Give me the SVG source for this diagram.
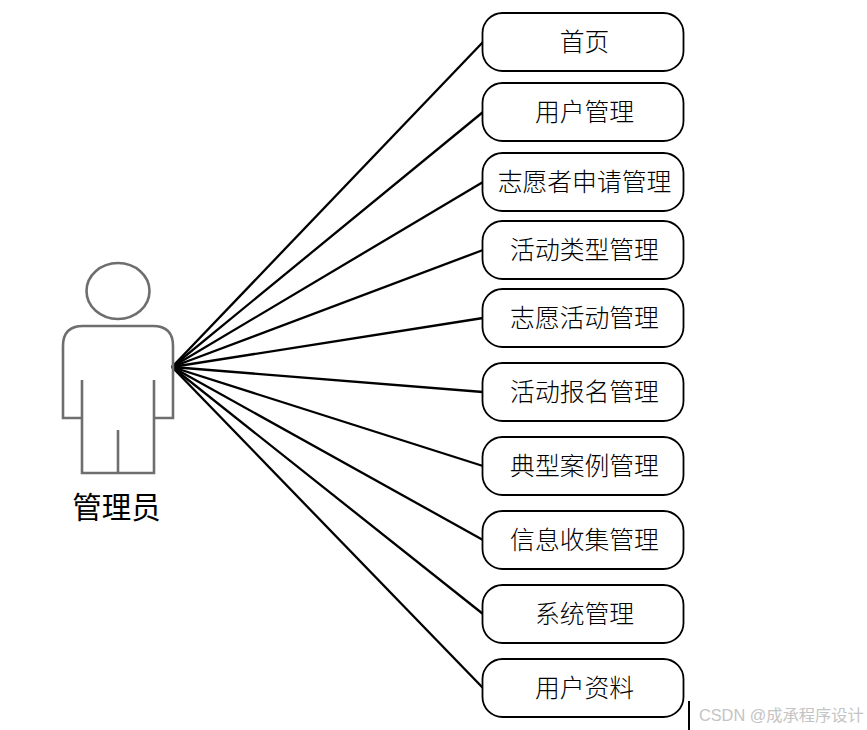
<svg xmlns="http://www.w3.org/2000/svg" width="867" height="730" viewBox="0 0 867 730">
<style>
.n rect{fill:#fff;stroke:#000;stroke-width:1.8}
.n text{font-family:"Noto Sans CJK SC","Noto Sans",sans-serif;font-size:24.8px;font-weight:300;fill:#000;text-anchor:middle}
#connectors line{stroke:#000;stroke-width:2.3}
#actor-figure *{fill:none;stroke:#6e6e6e;stroke-width:2.6}
</style>
<rect width="867" height="730" fill="#fff"/>
<g id="connectors">
<line x1="172" y1="367" x2="483" y2="42"/>
<line x1="172" y1="367" x2="483" y2="112"/>
<line x1="172" y1="367" x2="483" y2="182"/>
<line x1="172" y1="367" x2="483" y2="250"/>
<line x1="172" y1="367" x2="483" y2="318"/>
<line x1="172" y1="367" x2="483" y2="392"/>
<line x1="172" y1="367" x2="483" y2="466"/>
<line x1="172" y1="367" x2="483" y2="540"/>
<line x1="172" y1="367" x2="483" y2="614"/>
<line x1="172" y1="367" x2="483" y2="688"/>
</g>
<g id="actor">
<g id="actor-figure">
<ellipse cx="118" cy="291" rx="31.5" ry="28"/>
<path d="M81 418H63V346Q63 326 83 326H153Q173 326 173 346V418H154"/>
<path d="M82 380V473H154V380"/>
<path d="M118 430V473"/>
</g>
<text x="116.500" y="518" font-family="'Noto Sans CJK SC','Noto Sans',sans-serif" font-size="29.500" text-anchor="middle" fill="#000">管理员</text>
</g>
<g id="n1" class="n"><rect x="482.500" y="13" width="201" height="58" rx="20"/><text x="584.500" y="50.500">首页</text></g>
<g id="n2" class="n"><rect x="482.500" y="83" width="201" height="58" rx="20"/><text x="584.500" y="120.500">用户管理</text></g>
<g id="n3" class="n"><rect x="482.500" y="153" width="201" height="58" rx="20"/><text x="584.500" y="190.500">志愿者申请管理</text></g>
<g id="n4" class="n"><rect x="482.500" y="221" width="201" height="58" rx="20"/><text x="584.500" y="258.500">活动类型管理</text></g>
<g id="n5" class="n"><rect x="482.500" y="289" width="201" height="58" rx="20"/><text x="584.500" y="326.500">志愿活动管理</text></g>
<g id="n6" class="n"><rect x="482.500" y="363" width="201" height="58" rx="20"/><text x="584.500" y="400.500">活动报名管理</text></g>
<g id="n7" class="n"><rect x="482.500" y="437" width="201" height="58" rx="20"/><text x="584.500" y="474.500">典型案例管理</text></g>
<g id="n8" class="n"><rect x="482.500" y="511" width="201" height="58" rx="20"/><text x="584.500" y="548.500">信息收集管理</text></g>
<g id="n9" class="n"><rect x="482.500" y="585" width="201" height="58" rx="20"/><text x="584.500" y="622.500">系统管理</text></g>
<g id="n10" class="n"><rect x="482.500" y="659" width="201" height="58" rx="20"/><text x="584.500" y="696.500">用户资料</text></g>
<g id="watermark">
<line x1="689" y1="701" x2="689" y2="730" stroke="#000" stroke-width="2"/>
<text x="699" y="721" font-family="'Liberation Sans','Noto Sans CJK SC',sans-serif" font-size="16.300" fill="#c4c4c4">CSDN @成承程序设计</text>
</g>
</svg>
